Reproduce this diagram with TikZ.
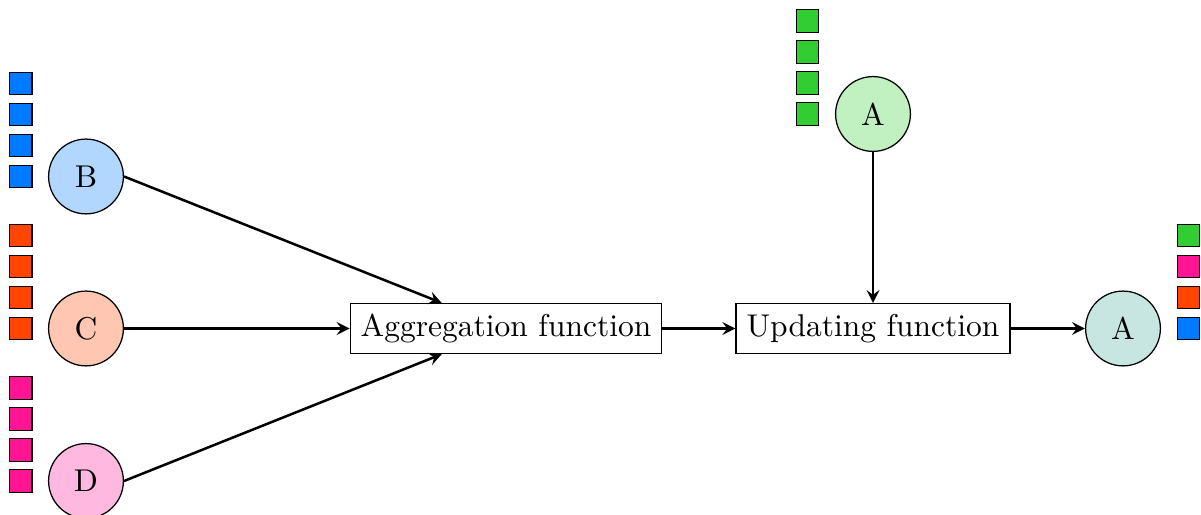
\documentclass[tikz,border=0pt]{standalone}
\usetikzlibrary{arrows}

\definecolor{mblue}{RGB}{0,122,255}
\definecolor{morange}{RGB}{255,69,0}
\definecolor{mpink}{RGB}{255,20,147}
\definecolor{mgreen}{RGB}{50,205,50}
\definecolor{mteal}{RGB}{199,230,226}
\newcommand*{\colB}{mblue}
\newcommand*{\colC}{morange}
\newcommand*{\colD}{mpink}
\newcommand*{\colA}{mgreen}
\newcommand*{\sqSize}{2.25}
\newcommand*{\sqStep}{3.1}
\newcommand*{\xLeft}{8.6}
\newcommand*{\xSqLeft}{2.07}
\newcommand*{\yB}{33.85}
\newcommand*{\yC}{18.65}
\newcommand*{\yD}{3.4}
\newcommand*{\xUpd}{87.3}
\newcommand*{\yTop}{40.1}
\newcommand*{\xOut}{112.3}
\newcommand*{\xSqOut}{118.85}

\tikzset{
    vertex/.style={circle, draw, minimum size=0.835cm, inner sep=0pt},
    func/.style={rectangle, draw, minimum height=0.54cm},
    feat/.style={rectangle, draw},
    flow/.style={->, thick},
}

\begin{document}
\begin{tikzpicture}[x=0.1116cm, y=0.1116cm, >=stealth]

    \useasboundingbox (0,0) rectangle (120.1,51.5);

    % neighbours
    \node [vertex, fill=\colB!30] (B) at (\xLeft,\yB) {B};
    \node [vertex, fill=\colC!30] (C) at (\xLeft,\yC) {C};
    \node [vertex, fill=\colD!30] (D) at (\xLeft,\yD) {D};

    \foreach \y/\col in {\yB/\colB, \yC/\colC, \yD/\colD} {
        \foreach \i in {0,...,3} {
            \draw [feat, fill=\col] (\xSqLeft-\sqSize/2,\y+\i*\sqStep-\sqSize/2) rectangle ++(\sqSize,\sqSize);
        }
    }

    % functions
    \node [func] (agg) at (50.6,\yC) {Aggregation function};
    \node [func] (upd) at (\xUpd,\yC) {Updating function};

    % node itself
    \node [vertex, fill=\colA!30] (Atop) at (\xUpd,\yTop) {A};
    \foreach \i in {0,...,3} {
        \draw [feat, fill=\colA] (80.75-\sqSize/2,\yTop+\i*\sqStep-\sqSize/2) rectangle ++(\sqSize,\sqSize);
    }

    % output
    \node [vertex, fill=mteal] (Aout) at (\xOut,\yC) {A};
    \foreach \i/\col in {0/\colB, 1/\colC, 2/\colD, 3/\colA} {
        \draw [feat, fill=\col] (\xSqOut-\sqSize/2,\yC+\i*\sqStep-\sqSize/2) rectangle ++(\sqSize,\sqSize);
    }

    \draw [flow] (B.east) -- (agg);
    \draw [flow] (C) -- (agg);
    \draw [flow] (D.east) -- (agg);
    \draw [flow] (agg) -- (upd);
    \draw [flow] (Atop) -- (upd);
    \draw [flow] (upd) -- (Aout);

\end{tikzpicture}
\end{document}
